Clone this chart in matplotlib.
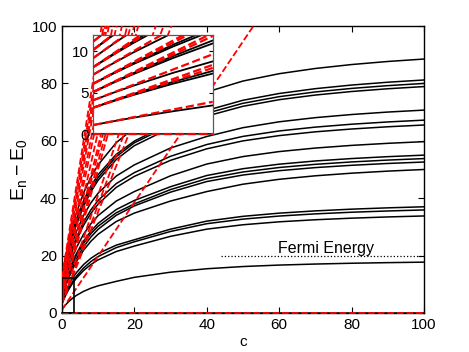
import matplotlib

matplotlib.use("Agg")
import matplotlib.pyplot as plt
from matplotlib.patches import Rectangle

plt.rcParams["font.family"] = ["Liberation Sans", "DejaVu Sans"]
plt.rcParams["mathtext.fontset"] = "custom"
plt.rcParams["mathtext.rm"] = "Liberation Sans"

# interaction strength c at which the levels were read
c_grid = [0, 0.25, 0.5, 1, 1.5, 2, 3, 4, 6, 8, 10, 15, 20, 30, 40, 50, 60, 70, 80, 90, 100]

# excitation energies E_n - E_0 (black curves), one row per level
levels = [
    [1.1, 1.55, 1.98, 2.76, 3.47, 4.10, 5.19, 6.10, 7.53, 8.61, 9.45, 11.0, 12.4, 14.2, 15.4, 16.17, 16.68, 17.04, 17.32, 17.53, 17.7],
    [3.2, 3.98, 4.72, 6.09, 7.32, 8.45, 10.43, 12.11, 14.8, 16.86, 18.5, 21.4, 23.3, 26.7, 29.2, 30.73, 31.76, 32.48, 33.03, 33.46, 33.8],
    [3.2, 4.04, 4.84, 6.31, 7.64, 8.86, 10.99, 12.79, 15.68, 17.9, 19.65, 22.76, 24.8, 28.4, 31.1, 32.7, 33.77, 34.53, 35.1, 35.54, 35.9],
    [4.1, 5.0, 5.84, 7.40, 8.79, 10.04, 12.21, 14.02, 16.88, 19.03, 20.7, 23.62, 25.5, 29.2, 32.0, 33.67, 34.78, 35.57, 36.17, 36.63, 37.0],
    [5.1, 6.20, 7.24, 9.19, 10.96, 12.58, 15.45, 17.9, 21.88, 24.97, 27.43, 31.86, 34.8, 39.0, 42.3, 44.87, 46.58, 47.8, 48.71, 49.43, 50.0],
    [5.1, 6.26, 7.36, 9.43, 11.32, 13.05, 16.13, 18.77, 23.08, 26.45, 29.15, 34.03, 37.3, 42.1, 45.8, 48.07, 49.58, 50.66, 51.46, 52.1, 52.6],
    [6.1, 7.31, 8.45, 10.58, 12.51, 14.28, 17.39, 20.04, 24.31, 27.6, 30.22, 34.9, 38.0, 43.0, 46.8, 49.13, 50.69, 51.8, 52.63, 53.28, 53.8],
    [6.1, 7.37, 8.57, 10.80, 12.82, 14.67, 17.91, 20.66, 25.09, 28.5, 31.21, 36.03, 39.2, 44.0, 47.9, 50.27, 51.85, 52.97, 53.81, 54.47, 55.0],
    [7.2, 8.56, 9.86, 12.25, 14.42, 16.39, 19.85, 22.78, 27.48, 31.08, 33.93, 38.99, 42.3, 47.8, 51.9, 54.5, 56.24, 57.47, 58.4, 59.12, 59.7],
    [8.1, 9.59, 11.0, 13.62, 16.01, 18.19, 22.04, 25.31, 30.6, 34.69, 37.94, 43.76, 47.6, 53.2, 57.2, 59.97, 61.81, 63.13, 64.11, 64.89, 65.5],
    [8.1, 9.69, 11.2, 14.0, 16.53, 18.83, 22.86, 26.27, 31.73, 35.91, 39.22, 45.07, 48.9, 54.6, 58.7, 61.53, 63.43, 64.77, 65.78, 66.57, 67.2],
    [9.2, 10.9, 12.51, 15.48, 18.15, 20.58, 24.81, 28.37, 34.04, 38.35, 41.74, 47.71, 51.6, 57.5, 61.5, 64.57, 66.62, 68.07, 69.16, 70.02, 70.7],
    [10.2, 11.96, 13.63, 16.75, 19.6, 22.21, 26.83, 30.79, 37.23, 42.24, 46.25, 53.48, 58.3, 64.5, 68.6, 72.03, 74.33, 75.95, 77.18, 78.14, 78.9],
    [10.2, 12.03, 13.77, 17.0, 19.95, 22.64, 27.4, 31.46, 38.04, 43.14, 47.2, 54.48, 59.3, 65.5, 69.6, 73.07, 75.38, 77.03, 78.26, 79.23, 80.0],
    [11.2, 13.07, 14.85, 18.15, 21.14, 23.86, 28.64, 32.7, 39.22, 44.23, 48.2, 55.26, 59.9, 66.2, 70.6, 74.13, 76.49, 78.17, 79.43, 80.42, 81.2],
    [12.2, 14.15, 16.0, 19.45, 22.59, 25.47, 30.53, 34.86, 41.87, 47.29, 51.61, 59.35, 64.5, 71.5, 77.0, 80.83, 83.39, 85.21, 86.58, 87.65, 88.5],
]

# first-order (small c) slopes of each level -> red dashed lines
red_slopes = [1.87, 3.2, 3.45, 3.7, 4.5, 4.75, 4.95, 5.2, 5.6, 6.1, 6.55, 7.0, 7.2, 7.5, 7.7, 8.0]

fermi_energy = 20
fermi_c = [44, 100]
box_c, box_e = 3.3, 12.3
inset_c_max, inset_e_max = 1.5, 12


def draw_levels(ax, c_max, lw_black, lw_red):
    ax.plot([0, c_max], [0, 0], color="k", lw=lw_black, clip_on=False, zorder=2)
    ax.plot([0, c_max], [0, 0], color="r", ls="--", lw=lw_red, clip_on=False, zorder=3)
    for row in levels:
        ax.plot(c_grid, row, color="k", lw=lw_black, zorder=2)
    for row, s in zip(levels, red_slopes):
        ax.plot([0, c_max], [row[0], row[0] + c_max * s], color="r", ls="--", lw=lw_red, zorder=3)


fig = plt.figure(figsize=(4.69, 3.52), dpi=100)
ax = fig.add_axes([0.132, 0.111, 0.772, 0.815])
draw_levels(ax, 100, 1.1, 1.3)
ax.plot(fermi_c, [fermi_energy, fermi_energy], color="k", ls=":", lw=0.9)
ax.text(72.9, 20.8, "Fermi Energy", ha="center", va="baseline", fontsize=11.5)
ax.add_patch(Rectangle((0, 0), box_c, box_e, fill=False, ec="k", lw=1.2, zorder=4))
ax.set_xlim(0, 100)
ax.set_ylim(0, 100)
ax.set_xticks(range(0, 101, 20))
ax.set_yticks(range(0, 101, 20))
ax.tick_params(direction="in", top=True, right=True, length=4, width=0.8, labelsize=11)
for sp in ax.spines.values():
    sp.set_linewidth(1.0)
ax.set_xlabel("c", fontsize=11, labelpad=2)
ax.set_ylabel(r"$\mathrm{E_n - E_0}$", fontsize=14, labelpad=2)

axin = fig.add_axes([0.199, 0.619, 0.2545, 0.282])
draw_levels(axin, inset_c_max, 1.3, 1.6)
axin.set_xlim(0, inset_c_max)
axin.set_ylim(0, inset_e_max)
axin.set_xticks([])
axin.set_yticks([0, 5, 10])
axin.tick_params(direction="in", right=True, length=3, width=0.8, labelsize=11)
for sp in axin.spines.values():
    sp.set_linewidth(0.9)
    sp.set_color("0.35")

fig.savefig("out.png", dpi=100)
